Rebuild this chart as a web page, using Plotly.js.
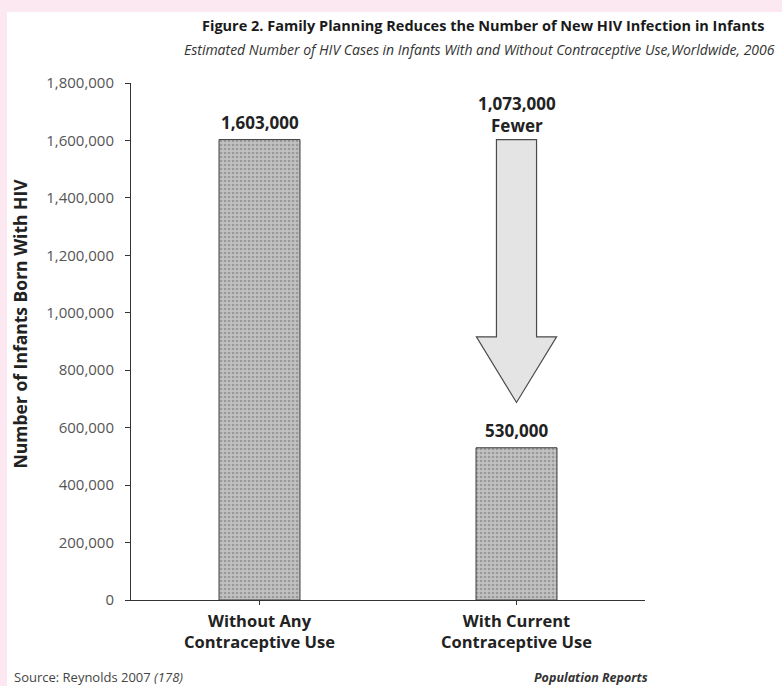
<!DOCTYPE html>
<html>
<head>
<meta charset="utf-8">
<script src="https://cdn.plot.ly/plotly-3.0.1.min.js"></script>
<style>
  html, body { margin:0; padding:0; background:#fbe8f0; }
  #chart { position:absolute; left:7px; top:12px; width:775px; height:674px; background:#ffffff; }
</style>
</head>
<body>
<div id="chart"></div>
<script>
// ---- data ----
const categories = ["Without Any<br>Contraceptive Use", "With Current<br>Contraceptive Use"];
const infantsWithHIV = [1603000, 530000];
const yTickValues = [0, 200000, 400000, 600000, 800000, 1000000, 1200000, 1400000, 1600000, 1800000];
const yTickLabels = ["0", "200,000", "400,000", "600,000", "800,000", "1,000,000", "1,200,000", "1,400,000", "1,600,000", "1,800,000"];
const titleText = "Figure 2. Family Planning Reduces the Number of New HIV Infection in Infants";
const subtitleText = "Estimated Number of HIV Cases in Infants With and Without Contraceptive Use,Worldwide, 2006";
const yTitleText = "Number of Infants Born With HIV";
const sourceText = "Source: Reynolds 2007 <i>(178)</i>";
const creditText = "<b><i>Population Reports</i></b>";

const fmt = v => v.toLocaleString("en-US");
const reduction = infantsWithHIV[0] - infantsWithHIV[1];

const FONT = "Open Sans, Noto Sans, sans-serif";

const trace = {
  type: "bar",
  x: [0, 1],
  y: infantsWithHIV,
  width: 0.315,
  marker: {
    color: "#bdbdbd",
    line: { color: "#3a3a3a", width: 1 },
    pattern: { shape: ".", fgcolor: "#999999", bgcolor: "#c2c2c2", size: 4, solidity: 0.35 }
  },
  hoverinfo: "skip",
  showlegend: false
};

// arrow geometry derived from the data values
const arrowX = 1, shaftHalf = 0.078, headHalf = 0.156;
const arrowTop = infantsWithHIV[0];
const headStart = infantsWithHIV[1] + 0.36 * reduction;
const arrowTip = infantsWithHIV[1] + 0.147 * reduction;
const arrowPath = `M ${arrowX - shaftHalf},${arrowTop} L ${arrowX + shaftHalf},${arrowTop} L ${arrowX + shaftHalf},${headStart} L ${arrowX + headHalf},${headStart} L ${arrowX},${arrowTip} L ${arrowX - headHalf},${headStart} L ${arrowX - shaftHalf},${headStart} Z`;

const annotations = [
  { xref: "paper", yref: "paper", x: 0.685, y: 1.112, text: "<b>" + titleText + "</b>", showarrow: false,
    font: { family: FONT, size: 14.5, color: "#1a1a1a" }, xanchor: "center", yanchor: "middle" },
  { xref: "paper", yref: "paper", x: 1.2568, y: 1.064, text: "<i>" + subtitleText + "</i>", showarrow: false,
    font: { family: FONT, size: 14, color: "#333" }, xanchor: "right", yanchor: "middle" },
  { xref: "paper", yref: "paper", x: -0.216, y: 0.535, text: "<b>" + yTitleText + "</b>", textangle: -90, showarrow: false,
    font: { family: FONT, size: 17.5, color: "#222" }, xanchor: "center", yanchor: "middle" },
  { xref: "x", yref: "y", x: 0, y: infantsWithHIV[0], text: "<b>" + fmt(infantsWithHIV[0]) + "</b>", showarrow: false,
    yanchor: "bottom", yshift: 4, font: { family: FONT, size: 17, color: "#222" } },
  { xref: "x", yref: "y", x: 1, y: infantsWithHIV[1], text: "<b>" + fmt(infantsWithHIV[1]) + "</b>", showarrow: false,
    yanchor: "bottom", yshift: 4, font: { family: FONT, size: 17, color: "#222" } },
  { xref: "x", yref: "y", x: 1, y: infantsWithHIV[0], text: "<b>" + fmt(reduction) + "<br>Fewer</b>", showarrow: false,
    yanchor: "bottom", yshift: 1, font: { family: FONT, size: 17, color: "#222" } },
  { xref: "paper", yref: "paper", x: -0.2315, y: -0.149, text: sourceText, showarrow: false,
    xanchor: "left", yanchor: "middle", font: { family: FONT, size: 13, color: "#444" } },
  { xref: "paper", yref: "paper", x: 1.01, y: -0.149, text: creditText, showarrow: false,
    xanchor: "right", yanchor: "middle", font: { family: FONT, size: 12.5, color: "#333" } }
];

const layout = {
  width: 775, height: 674,
  margin: { l: 124, r: 137, t: 71, b: 86 },
  paper_bgcolor: "#ffffff",
  plot_bgcolor: "#ffffff",
  font: { family: FONT, color: "#333" },
  showlegend: false,
  xaxis: {
    range: [-0.5, 1.5],
    tickmode: "array",
    tickvals: [0, 1],
    ticktext: categories.map(c => "<b>" + c + "</b>"),
    showline: true, linecolor: "#333", linewidth: 1,
    ticks: "outside", ticklen: 4, tickcolor: "#333",
    tickfont: { family: FONT, size: 16.5, color: "#222" },
    ticklabelstandoff: 2,
    showgrid: false, zeroline: false, fixedrange: true
  },
  yaxis: {
    range: [0, 1800000],
    tickmode: "array",
    tickvals: yTickValues,
    ticktext: yTickLabels,
    showline: true, linecolor: "#333", linewidth: 1,
    ticks: "outside", ticklen: 5, tickcolor: "#333",
    tickfont: { family: FONT, size: 15, color: "#555" },
    ticklabelstandoff: 8,
    showgrid: false, zeroline: false, fixedrange: true
  },
  shapes: [
    { type: "path", xref: "x", yref: "y", path: arrowPath,
      fillcolor: "#e4e4e4", line: { color: "#4a4a4a", width: 1.2 }, layer: "above" }
  ],
  annotations: annotations
};

Plotly.newPlot("chart", [trace], layout, { displayModeBar: false, staticPlot: true });
</script>
</body>
</html>
